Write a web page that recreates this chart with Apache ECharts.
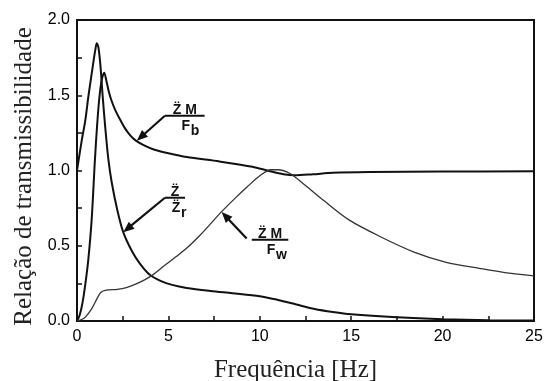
<!DOCTYPE html>
<html>
<head>
<meta charset="utf-8">
<script src="https://cdn.jsdelivr.net/npm/echarts@6/dist/echarts.min.js"></script>
<style>html,body{margin:0;padding:0;background:#fff}#c{width:547px;height:381px}</style>
</head>
<body>
<div id="c"></div>
<script>
// ---- data ----
const xTickLabels = ['0', '5', '10', '15', '20', '25'];
const yTickLabels = ['0.0', '0.5', '1.0', '1.5', '2.0'];

// Z''/Z''r  (base -> body transmissibility)
const freqZr = [0, 0.26, 0.45, 0.62, 0.8, 0.92, 1.0, 1.08, 1.17, 1.28, 1.4, 1.55, 1.71, 1.9, 2.2, 2.53, 3.0, 3.45, 4.0, 4.6, 5.2, 6.0, 7.3, 8.5, 10.0, 11.0, 12.0, 13.0, 14.0, 15.0, 17.5, 20.0, 22.5, 25.0];
const valZr  = [1.0, 1.2, 1.33, 1.49, 1.64, 1.74, 1.8, 1.845, 1.82, 1.7, 1.5, 1.28, 1.08, 0.92, 0.74, 0.59, 0.465, 0.38, 0.305, 0.265, 0.24, 0.22, 0.2, 0.185, 0.165, 0.14, 0.11, 0.08, 0.06, 0.045, 0.025, 0.012, 0.005, 0.003];

// Z'' M / Fb
const freqFb = [0, 0.15, 0.3, 0.45, 0.62, 0.8, 0.98, 1.1, 1.22, 1.35, 1.49, 1.6, 1.75, 1.9, 2.1, 2.35, 2.6, 2.9, 3.2, 3.7, 4.2, 5.0, 6.0, 7.8, 9.6, 10.5, 11.3, 11.9, 12.9, 14.0, 16.0, 20.0, 25.0];
const valFb  = [0.0, 0.04, 0.12, 0.24, 0.41, 0.67, 1.07, 1.3, 1.48, 1.6, 1.65, 1.6, 1.52, 1.46, 1.4, 1.34, 1.285, 1.235, 1.2, 1.165, 1.14, 1.115, 1.09, 1.06, 1.025, 0.997, 0.975, 0.968, 0.975, 0.985, 0.99, 0.993, 0.995];

// Z'' M / Fw
const freqFw = [0, 0.4, 0.8, 1.1, 1.3, 1.6, 2.2, 2.7, 3.3, 4.0, 4.7, 5.45, 6.1, 6.73, 7.3, 7.9, 8.6, 9.3, 10.0, 10.6, 11.0, 11.65, 12.5, 13.5, 14.9, 16.6, 18.4, 20.2, 22.0, 23.5, 25.0];
const valFw  = [0.0, 0.02, 0.08, 0.15, 0.19, 0.205, 0.21, 0.222, 0.25, 0.295, 0.36, 0.43, 0.495, 0.57, 0.645, 0.725, 0.81, 0.89, 0.965, 1.005, 1.005, 0.98, 0.9, 0.8, 0.67, 0.56, 0.46, 0.39, 0.35, 0.32, 0.30];

const pairs = (xs, ys) => xs.map((x, i) => [x, ys[i]]);

const chart = echarts.init(document.getElementById('c'), null, {renderer: 'canvas'});

const tickFont = {fontFamily: 'Liberation Sans, Arial, sans-serif', fontSize: 16, color: '#000'};
const titleFont = {fontFamily: 'Liberation Serif, Times New Roman, serif', fontSize: 25, color: '#222'};

chart.setOption({
  animation: false,
  backgroundColor: '#fff',
  grid: {left: 77, top: 20, right: 13, bottom: 60, containLabel: false, outerBoundsMode: 'none',
         show: true, borderColor: '#111', borderWidth: 2, backgroundColor: 'transparent'},
  xAxis: {
    type: 'value', min: 0, max: 25, interval: 2.5,
    name: 'Frequência [Hz]', nameLocation: 'middle', nameGap: 37,
    nameTextStyle: Object.assign({padding: [0, 20, 0, 0]}, titleFont),
    axisLine: {show: true, lineStyle: {color: '#111', width: 2}},
    axisTick: {show: true, inside: true, length: 5, lineStyle: {color: '#111', width: 1.5}},
    splitLine: {show: false},
    axisLabel: Object.assign({margin: 8, formatter: v => xTickLabels.includes(String(v)) ? String(v) : ''}, tickFont)
  },
  yAxis: {
    type: 'value', min: 0, max: 2, interval: 0.25,
    name: 'Relação de transmissibilidade', nameLocation: 'middle', nameGap: 34,
    nameTextStyle: Object.assign({padding: [0, 12, 0, 0]}, titleFont),
    axisLine: {show: true, lineStyle: {color: '#111', width: 2}},
    axisTick: {show: true, inside: true, length: 5, lineStyle: {color: '#111', width: 1.5}},
    splitLine: {show: false},
    axisLabel: Object.assign({margin: 7, formatter: v => { const s = v.toFixed(1); return (yTickLabels.includes(s) && Math.abs(v*2 - Math.round(v*2)) < 1e-9) ? s : ''; }}, tickFont)
  },
  series: [
    {type: 'line', name: 'Zr', data: pairs(freqZr, valZr), showSymbol: false, smooth: 0.3, lineStyle: {color: '#111', width: 2}},
    {type: 'line', name: 'Fb', data: pairs(freqFb, valFb), showSymbol: false, smooth: 0.3, lineStyle: {color: '#111', width: 2}},
    {type: 'line', name: 'Fw', data: pairs(freqFw, valFw), showSymbol: false, smooth: 0.3, lineStyle: {color: '#333', width: 1.3}}
  ]
});

// ---- annotations: fraction labels with arrows (anchored in data coords) ----
const annotations = [
  {num: 'Z\u0308 M', den: 'F', sub: 'b', line: [4.81, 6.98, 1.364], tail: [4.81, 1.364], tip: [3.27, 1.198]},
  {num: 'Z\u0308', den: 'Z\u0308', sub: 'r', line: [4.81, 5.91, 0.819], tail: [4.81, 0.819], tip: [2.53, 0.59]},
  {num: 'Z\u0308 M', den: 'F', sub: 'w', line: [9.56, 11.56, 0.54], tail: [9.28, 0.548], tip: [7.91, 0.725]}
];
const labFont = 'bold 14px Liberation Sans, Arial, sans-serif';
const els = [];
annotations.forEach(a => {
  const p0 = chart.convertToPixel({gridIndex: 0}, [a.line[0], a.line[2]]);
  const p1 = chart.convertToPixel({gridIndex: 0}, [a.line[1], a.line[2]]);
  const t0 = chart.convertToPixel({gridIndex: 0}, a.tail);
  const tip = chart.convertToPixel({gridIndex: 0}, a.tip);
  const cx = (p0[0] + p1[0]) / 2;
  els.push({type: 'line', shape: {x1: p0[0], y1: p0[1], x2: p1[0], y2: p1[1]}, style: {stroke: '#111', lineWidth: 2}});
  els.push({type: 'text', x: cx, y: p0[1] + 1, style: {text: a.num, font: labFont, fill: '#111', align: 'center', verticalAlign: 'bottom'}});
  els.push({type: 'text', x: cx + 1, y: p0[1] + 3, style: {text: a.den, font: labFont, fill: '#111', align: 'center', verticalAlign: 'top'}});
  els.push({type: 'text', x: cx + 6, y: p0[1] + 8, style: {text: a.sub, font: labFont, fill: '#111', align: 'left', verticalAlign: 'top'}});
  // arrow
  const dx = tip[0] - t0[0], dy = tip[1] - t0[1];
  const L = Math.hypot(dx, dy), ux = dx / L, uy = dy / L;
  const hl = 11, hw = 4.5;
  const bx = tip[0] - ux * hl, by = tip[1] - uy * hl;
  els.push({type: 'line', shape: {x1: t0[0], y1: t0[1], x2: bx + ux * 2, y2: by + uy * 2}, style: {stroke: '#111', lineWidth: 2.2}});
  els.push({type: 'polygon', shape: {points: [[tip[0], tip[1]], [bx - uy * hw, by + ux * hw], [bx + uy * hw, by - ux * hw]]}, style: {fill: '#111'}});
});
chart.setOption({graphic: {elements: els}});
</script>
</body>
</html>
